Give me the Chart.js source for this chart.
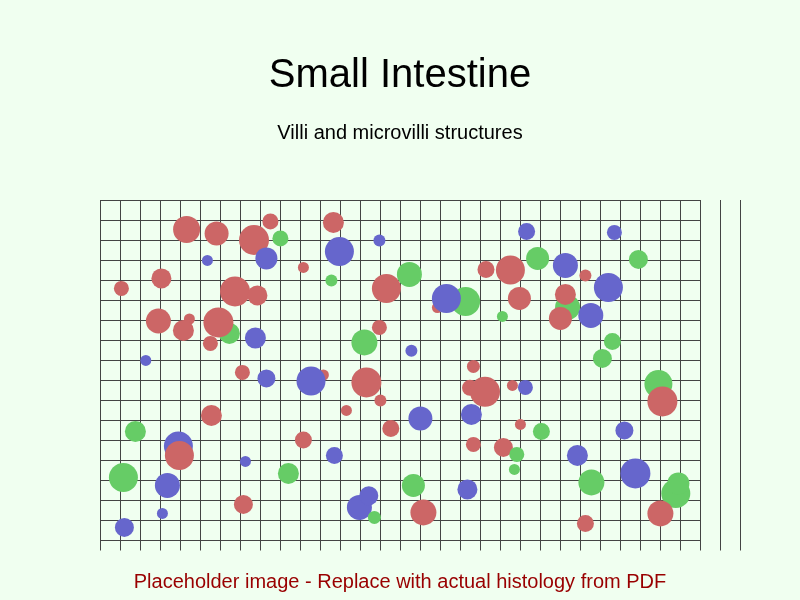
<!DOCTYPE html>
<html>
<head>
<meta charset="utf-8">
<script src="https://cdn.jsdelivr.net/npm/chart.js@4.4.1/dist/chart.umd.min.js"></script>
<style>
html, body { margin: 0; padding: 0; background: #f0fff0; }
canvas { display: block; }
</style>
</head>
<body>
<canvas id="c" width="800" height="600"></canvas>
<script>
// ---- Text ----
const titleText = 'Small Intestine';
const subtitleText = 'Villi and microvilli structures';
const footerText = 'Placeholder image - Replace with actual histology from PDF';

// ---- Categories (cell colour classes) ----
const categories = ['Red', 'Blue', 'Green'];
const categoryColors = ['#cc6666', '#6666cc', '#66cc66'];

// ---- Grid (in grid units) ----
const gridCols = 32;      // vertical lines 0..32
const gridRows = 17;      // horizontal lines 0..17
const gridYMax = 17.5;    // plot depth
const hLineEnd = 30;      // horizontal lines stop at this column

// ---- Bubbles, in drawing order (grid units, y measured downward) ----
const bubbleX = [6.47, 3.92, 18.28, 16.87, 23.38, 11.17, 12.97, 7.70, 27.92, 20.17, 28.79,
  4.33, 5.83, 8.52, 9.02, 11.67, 11.97, 13.97, 21.33, 25.72, 5.37, 8.32, 10.17, 11.57, 15.47,
  19.30, 20.52, 21.88, 23.27, 24.27, 26.92, 1.07, 3.07, 6.75, 7.87, 14.32, 17.32, 20.12, 20.97,
  23.27, 25.42, 23.02, 24.54, 2.92, 4.47, 4.17, 5.92, 5.52, 7.77, 13.97, 13.22, 15.57, 25.62,
  2.29, 25.12, 7.12, 8.32, 10.55, 13.32, 18.67, 18.50, 19.25, 20.62, 21.27, 28.12, 14.02, 12.32,
  5.57, 16.02, 18.57, 14.54, 21.02, 22.07, 26.22, 1.77, 10.17, 18.67, 20.84, 3.97, 11.72, 23.87,
  7.27, 20.72, 1.17, 9.42, 26.77, 3.37, 15.67, 18.37, 24.57, 28.92, 13.44, 7.17, 16.17, 28.02,
  3.12, 13.72, 24.27, 1.22];
const bubbleY = [6.67, 12.30, 5.07, 5.38, 5.37, 8.75, 15.37, 2.00, 9.20, 12.37, 14.67,
  1.47, 1.67, 1.07, 1.92, 1.12, 2.57, 2.02, 1.57, 1.62, 3.02, 2.92, 3.37, 4.02, 3.72,
  3.47, 3.50, 2.92, 3.27, 3.77, 2.97, 4.42, 3.92, 4.57, 4.77, 4.42, 4.92, 5.82, 4.92,
  4.72, 4.37, 5.92, 5.77, 6.05, 5.95, 6.52, 6.12, 7.17, 6.90, 6.37, 7.12, 7.54, 7.07,
  8.02, 7.92, 8.62, 8.92, 9.05, 9.12, 8.32, 9.39, 9.59, 9.27, 9.37, 10.07, 10.02, 10.52,
  10.77, 10.92, 10.72, 11.42, 11.22, 11.57, 11.52, 11.57, 12.00, 12.22, 12.72, 12.77, 12.77, 12.77,
  13.07, 13.47, 13.87, 13.67, 13.67, 14.27, 14.27, 14.47, 14.12, 14.17, 14.79, 15.22, 15.62, 15.67,
  15.67, 15.87, 16.17, 16.37];
const bubbleR = [10.5, 14.5, 14.5, 5.5, 12.5, 5.5, 12.5, 15, 14, 9.5, 14.5,
  13.5, 12, 8, 8, 10.5, 14.5, 6, 8.5, 7.5, 5.5, 11, 5.5, 6, 12.5,
  8.5, 14.5, 11.5, 12.5, 6, 9.5, 7.5, 10, 15, 10, 14.5, 14.5, 5.5, 11.5,
  10.5, 14.5, 11.5, 12.5, 12.5, 5.5, 10.5, 15, 7.5, 10.5, 7.5, 13, 6, 8.5,
  5.5, 9.5, 7.5, 9, 14.5, 15, 6.5, 8, 15, 5.5, 7.5, 15, 6, 5.5,
  10.5, 12, 10.5, 8.5, 5.5, 8.5, 9, 10.5, 8.5, 7.5, 7.5, 14.5, 8.5, 10.5,
  5.5, 5.5, 14.5, 10.5, 15, 12.5, 11.5, 10, 13, 11, 9.5, 9.5, 13, 13,
  5.5, 6.5, 8.5, 9.5];
// 0 = Red, 1 = Blue, 2 = Green
const bubbleKind = [2, 1, 2, 0, 2, 0, 1, 0, 2, 0, 2,
  0, 0, 0, 2, 0, 1, 1, 1, 1, 1, 1, 0, 2, 2,
  0, 0, 2, 1, 0, 2, 0, 0, 0, 0, 0, 1, 2, 0,
  0, 1, 0, 1, 0, 0, 0, 0, 0, 1, 0, 2, 1, 2,
  1, 2, 0, 1, 1, 0, 0, 0, 0, 0, 1, 0, 0, 0,
  0, 1, 1, 0, 0, 2, 1, 2, 0, 0, 2, 0, 1, 1,
  1, 2, 2, 2, 1, 1, 2, 1, 2, 2, 1, 0, 0, 0,
  1, 2, 0, 1];

const points = bubbleX.map((x, i) => ({ x: x, y: bubbleY[i], r: bubbleR[i] }));
const pointColors = bubbleKind.map(k => categoryColors[k]);

const gridPlugin = {
  id: 'gridAndText',
  beforeDraw(chart) {
    const ctx = chart.ctx;
    ctx.save();
    ctx.fillStyle = '#f0fff0';
    ctx.fillRect(0, 0, chart.width, chart.height);
    ctx.restore();
  },
  beforeDatasetsDraw(chart) {
    const ctx = chart.ctx;
    const xs = chart.scales.x, ys = chart.scales.y;
    ctx.save();
    ctx.strokeStyle = '#444444';
    ctx.lineWidth = 1;
    ctx.beginPath();
    const top = Math.round(ys.getPixelForValue(0)) + 0.5;
    const bottom = Math.round(ys.getPixelForValue(gridYMax)) + 0.5;
    for (let c = 0; c <= gridCols; c++) {
      const px = Math.round(xs.getPixelForValue(c)) + 0.5;
      ctx.moveTo(px, top - 0.5);
      ctx.lineTo(px, bottom);
    }
    const left = Math.round(xs.getPixelForValue(0));
    const right = Math.round(xs.getPixelForValue(hLineEnd)) + 1;
    for (let r = 0; r <= gridRows; r++) {
      const py = Math.round(ys.getPixelForValue(r)) + 0.5;
      ctx.moveTo(left, py);
      ctx.lineTo(right, py);
    }
    ctx.stroke();
    ctx.restore();
  },
  afterDraw(chart) {
    const ctx = chart.ctx;
    ctx.save();
    ctx.textAlign = 'center';
    ctx.textBaseline = 'alphabetic';
    ctx.fillStyle = '#000000';
    ctx.font = '40px "Liberation Sans", Arial, sans-serif';
    ctx.fillText(titleText, 400, 87);
    ctx.font = '20px "Liberation Sans", Arial, sans-serif';
    ctx.fillText(subtitleText, 400, 139);
    ctx.fillStyle = '#990000';
    ctx.fillText(footerText, 400, 588);
    ctx.restore();
  }
};

new Chart(document.getElementById('c'), {
  type: 'bubble',
  data: {
    datasets: [{
      label: 'Cells',
      data: points,
      backgroundColor: pointColors,
      borderWidth: 0,
      hoverBorderWidth: 0,
      clip: false
    }]
  },
  options: {
    responsive: false,
    animation: false,
    events: [],
    layout: { padding: { left: 100, right: 60, top: 200, bottom: 50 } },
    plugins: {
      legend: { display: false },
      title: { display: false },
      tooltip: { enabled: false }
    },
    scales: {
      x: { type: 'linear', min: 0, max: gridCols, display: false },
      y: { type: 'linear', min: 0, max: gridYMax, reverse: true, display: false }
    }
  },
  plugins: [gridPlugin]
});
</script>
</body>
</html>
